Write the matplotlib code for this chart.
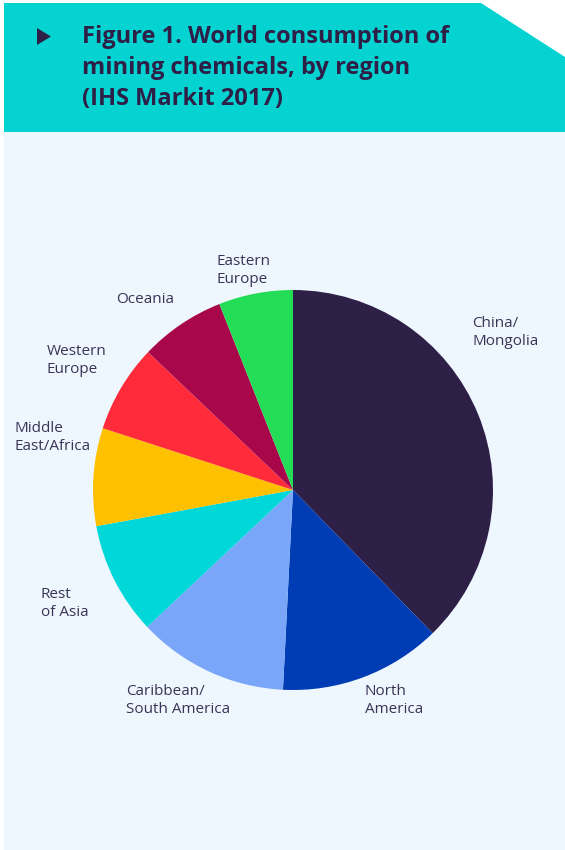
import matplotlib.pyplot as plt
from matplotlib.patches import Polygon, Rectangle

W, H = 565, 850

regions = ['China/\nMongolia', 'North\nAmerica', 'Caribbean/\nSouth America', 'Rest\nof Asia',
           'Middle\nEast/Africa', 'Western\nEurope', 'Oceania', 'Eastern\nEurope']
shares = [37.7, 13.1, 12.2, 9.1, 7.9, 7.1, 6.9, 6.0]
colors = ['#2e1f47', '#003cb4', '#7aa6fa', '#00d7d8', '#ffc000', '#ff2a3a', '#a8084a', '#22dd55']

# label top-left positions in pixels
label_pos = [(472, 316), (365, 684), (126, 684), (41, 587), (15, 421), (47, 344), (116, 292), (217, 254)]

title = 'Figure 1. World consumption of\nmining chemicals, by region\n(IHS Markit 2017)'

plt.rcParams['font.family'] = ['Open Sans', 'DejaVu Sans']

fig = plt.figure(figsize=(W / 100, H / 100), dpi=100)
fig.patch.set_facecolor('white')


def px(x, y):
    return x / W, 1 - y / H


# background panel
fig.patches.append(Rectangle(px(4, 850), (W - 4) / W, 718 / H, transform=fig.transFigure,
                             facecolor='#eef6fe', edgecolor='none', zorder=-2))
# header band with cut corner
hdr = [px(4, 3), px(481, 3), px(565, 57), px(565, 132), px(4, 132)]
fig.patches.append(Polygon(hdr, closed=True, transform=fig.transFigure,
                           facecolor='#04d3d2', edgecolor='none', zorder=-1))
# triangle marker
tri = [px(37, 28), px(51, 36.5), px(37, 45)]
fig.patches.append(Polygon(tri, closed=True, transform=fig.transFigure,
                           facecolor='#2e1f47', edgecolor='none', zorder=2))

fig.text(*px(82, 25), title, ha='left', va='top', fontsize=17, fontweight='bold',
         color='#2e1f47', linespacing=1.4, zorder=3)

cx, cy, r = 293, 490, 200
ax = fig.add_axes([(cx - r) / W, 1 - (cy + r) / H, 2 * r / W, 2 * r / H])
ax.set_zorder(5)
ax.pie(shares, colors=colors, startangle=90, counterclock=False, radius=1,
       wedgeprops=dict(linewidth=0))
ax.set_xlim(-1, 1)
ax.set_ylim(-1, 1)
ax.axis('off')

for lab, (x, y) in zip(regions, label_pos):
    fig.text(*px(x, y), lab, ha='left', va='top', fontsize=11, color='#3a3456', linespacing=1.24)

fig.savefig('out.png', dpi=100)
